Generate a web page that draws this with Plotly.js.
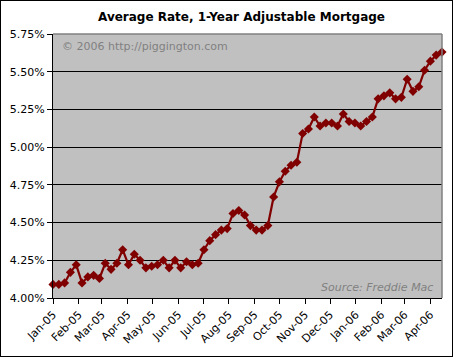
<!DOCTYPE html>
<html>
<head>
<meta charset="utf-8">
<script src="https://cdn.plot.ly/plotly-3.0.1.min.js"></script>
<style>
html,body{margin:0;padding:0;background:#fff;}
#wrap{position:relative;width:453px;height:357px;}
#chart{width:453px;height:357px;}
#frame{position:absolute;left:0;top:0;width:453px;height:357px;box-sizing:border-box;border:1px solid #000;pointer-events:none;}
</style>
</head>
<body>
<div id="wrap"><div id="chart"></div><div id="frame"></div></div>
<script>
// Weekly survey dates (Thursdays)
const dates = [
  '2005-01-06','2005-01-13','2005-01-20','2005-01-27',
  '2005-02-03','2005-02-10','2005-02-17','2005-02-24',
  '2005-03-03','2005-03-10','2005-03-17','2005-03-24','2005-03-31',
  '2005-04-07','2005-04-14','2005-04-21','2005-04-28',
  '2005-05-05','2005-05-12','2005-05-19','2005-05-26',
  '2005-06-02','2005-06-09','2005-06-16','2005-06-23','2005-06-30',
  '2005-07-07','2005-07-14','2005-07-21','2005-07-28',
  '2005-08-04','2005-08-11','2005-08-18','2005-08-25',
  '2005-09-01','2005-09-08','2005-09-15','2005-09-22','2005-09-29',
  '2005-10-06','2005-10-13','2005-10-20','2005-10-27',
  '2005-11-03','2005-11-10','2005-11-17','2005-11-24',
  '2005-12-01','2005-12-08','2005-12-15','2005-12-22','2005-12-29',
  '2006-01-05','2006-01-12','2006-01-19','2006-01-26',
  '2006-02-02','2006-02-09','2006-02-16','2006-02-23',
  '2006-03-02','2006-03-09','2006-03-16','2006-03-23','2006-03-30',
  '2006-04-06','2006-04-13','2006-04-20'
];
// 1-year ARM average rate (%)
const rates = [
  4.09, 4.09, 4.10, 4.17,
  4.22, 4.10, 4.14, 4.15,
  4.13, 4.23, 4.19, 4.23, 4.32,
  4.22, 4.29, 4.25, 4.20,
  4.21, 4.22, 4.25, 4.20,
  4.25, 4.20, 4.24, 4.22, 4.23,
  4.32, 4.38, 4.42, 4.45,
  4.46, 4.56, 4.58, 4.55,
  4.48, 4.45, 4.45, 4.48, 4.67,
  4.77, 4.84, 4.88, 4.90,
  5.09, 5.12, 5.20, 5.14,
  5.16, 5.16, 5.14, 5.22, 5.17,
  5.16, 5.14, 5.17, 5.20,
  5.32, 5.34, 5.36, 5.32,
  5.33, 5.45, 5.37, 5.40, 5.51,
  5.57, 5.61, 5.63
];
const yTicks = [4.00, 4.25, 4.50, 4.75, 5.00, 5.25, 5.50, 5.75];
const titleText = 'Average Rate, 1-Year Adjustable Mortgage';
const copyrightText = '\u00a9 2006 http://piggington.com';
const sourceText = 'Source: Freddie Mac';

const FONT = 'Verdana, "DejaVu Sans", sans-serif';
const L = 53, R = 11, T = 34, B = 59, W = 453, H = 357;
const pw = W - L - R, ph = H - T - B;

const trace = {
  x: dates, y: rates, type: 'scatter', mode: 'lines+markers',
  line: {color: '#800000', width: 2.2},
  marker: {symbol: 'diamond', size: 7, color: '#800000'},
  cliponaxis: false, hoverinfo: 'skip'
};

const layout = {
  width: W, height: H,
  margin: {l: L, r: R, t: T, b: B, pad: 0},
  paper_bgcolor: '#ffffff', plot_bgcolor: '#c0c0c0',
  showlegend: false,
  font: {family: FONT, size: 11, color: '#000'},
  title: {
    text: '<b>' + titleText + '</b>',
    font: {family: FONT, size: 12, color: '#000'},
    xref: 'paper', x: (241.5 - L) / pw, xanchor: 'center',
    yref: 'container', y: 1 - 17 / H, yanchor: 'middle'
  },
  xaxis: {
    type: 'date', range: [dates[0], dates[dates.length - 1]],
    tick0: dates[0], dtick: 'M1', tickformat: '%b-%y',
    tickangle: -45, ticks: 'outside', ticklen: 5, tickcolor: '#000', tickwidth: 1,
    showgrid: false, showline: true, linecolor: '#000', linewidth: 1,
    tickfont: {family: FONT, size: 11, color: '#000'}, zeroline: false
  },
  yaxis: {
    range: [4.0, 5.75], tickvals: yTicks,
    ticktext: yTicks.map(v => v.toFixed(2) + '%'),
    ticks: 'outside', ticklen: 5, tickcolor: '#000', tickwidth: 1,
    showgrid: true, gridcolor: '#000', gridwidth: 1,
    showline: true, linecolor: '#000', linewidth: 1, zeroline: false,
    tickfont: {family: FONT, size: 11, color: '#000'}
  },
  shapes: [
    {type: 'line', xref: 'paper', yref: 'paper', x0: 0, x1: 1, y0: 1, y1: 1,
     line: {color: '#808080', width: 1.5}, layer: 'above'},
    {type: 'line', xref: 'paper', yref: 'paper', x0: 1, x1: 1, y0: 0, y1: 1,
     line: {color: '#808080', width: 1.5}, layer: 'above'}
  ],
  annotations: [
    {text: copyrightText, xref: 'paper', yref: 'paper',
     x: (60 - L) / pw, xanchor: 'left', y: 1 - (47 - T) / ph, yanchor: 'middle',
     showarrow: false, font: {family: FONT, size: 11, color: '#808080'}},
    {text: '<i>' + sourceText + '</i>', xref: 'paper', yref: 'paper',
     x: (435 - L) / pw, xanchor: 'right', y: (298 - 287.5) / ph, yanchor: 'middle',
     showarrow: false, font: {family: FONT, size: 11, color: '#808080'}}
  ]
};

Plotly.newPlot('chart', [trace], layout, {displayModeBar: false, staticPlot: true});
</script>
</body>
</html>
